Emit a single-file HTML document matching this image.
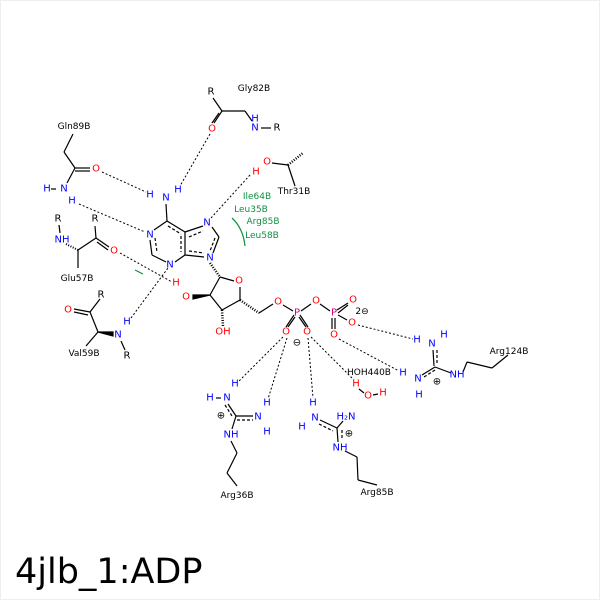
<!DOCTYPE html>
<html><head><meta charset="utf-8"><style>
html,body{margin:0;padding:0;background:#fff}
svg{display:block}
text{font-family:"DejaVu Sans","Liberation Sans",sans-serif;font-size:10px;text-anchor:middle;dominant-baseline:central}
.b{fill:#0000ff}.r{fill:#ff0000}.p{fill:#cc0080}.k{fill:#000}.g{fill:#109040}
.l{font-size:9px}
</style></head><body>
<svg width="600" height="600" viewBox="0 0 600 600">
<rect x="0.5" y="0.5" width="599" height="599" fill="#fff" stroke="#eee"/>
<g stroke="#000" stroke-width="1.2" fill="none">
<line x1="213" y1="98" x2="222" y2="111"/><line x1="222" y1="111" x2="245" y2="111"/><line x1="245" y1="111" x2="252" y2="121"/>
<line x1="261" y1="128" x2="271" y2="128"/>
<line x1="222" y1="111" x2="214" y2="123"/><line x1="219" y1="113" x2="212" y2="123"/>
<line x1="73" y1="134" x2="64" y2="152"/><line x1="64" y1="152" x2="75" y2="168"/>
<line x1="75" y1="168" x2="90" y2="168"/><line x1="75" y1="171" x2="90" y2="171"/>
<line x1="75" y1="168" x2="67" y2="183"/><line x1="51" y1="189" x2="56" y2="189"/>
<line x1="166" y1="204" x2="167" y2="221"/>
<line x1="167" y1="221" x2="154" y2="230"/><line x1="167" y1="221" x2="185" y2="232"/>
<line x1="150" y1="240" x2="152" y2="255"/><line x1="152" y1="255" x2="166" y2="262"/>
<line x1="175" y1="262" x2="185" y2="255"/><line x1="185" y1="255" x2="185" y2="232"/>
<line x1="185" y1="232" x2="203" y2="226"/><line x1="212" y1="227" x2="219" y2="237"/>
<line x1="219" y1="237" x2="213" y2="253"/><line x1="185" y1="255" x2="204" y2="257"/>
<g stroke-dasharray="3,2"><line x1="155" y1="238" x2="157" y2="252"/><line x1="168" y1="226" x2="181" y2="234"/><line x1="181" y1="236" x2="181" y2="252"/><line x1="189" y1="237" x2="203" y2="231"/><line x1="215" y1="238" x2="210" y2="251"/><line x1="189" y1="251" x2="204" y2="253"/></g>
<line x1="210" y1="263" x2="220" y2="277" stroke-dasharray="1,1.5" stroke-width="2.5"/>
<line x1="220" y1="277" x2="234" y2="281"/><line x1="220" y1="277" x2="210" y2="295"/>
<line x1="210" y1="295" x2="222" y2="310"/><line x1="222" y1="310" x2="240" y2="300"/>
<line x1="240" y1="300" x2="240" y2="287"/>
<line x1="240" y1="300" x2="259" y2="313" stroke-dasharray="1,1.5" stroke-width="2.5"/>
<line x1="259" y1="313" x2="273" y2="304"/>
<line x1="222" y1="310" x2="223" y2="326" stroke-dasharray="1,1.5" stroke-width="2.5"/>
<polygon points="210,295 193,295 193,299" fill="#000"/>
<line x1="283" y1="305" x2="293" y2="311"/><line x1="301" y1="311" x2="311" y2="304"/>
<line x1="320" y1="304" x2="330" y2="311"/>
<line x1="295" y1="317" x2="288" y2="327"/><line x1="299" y1="317" x2="306" y2="327"/>
<line x1="294" y1="315" x2="286" y2="327"/><line x1="300" y1="315" x2="308" y2="327"/>
<line x1="337" y1="310" x2="348" y2="303"/><line x1="338" y1="313" x2="348" y2="305"/>
<line x1="338" y1="315" x2="347" y2="320"/>
<line x1="332" y1="318" x2="332" y2="329"/><line x1="335" y1="318" x2="335" y2="329"/>
<line x1="272" y1="163" x2="288" y2="165"/><line x1="288" y1="165" x2="295" y2="186"/>
<line x1="288" y1="165" x2="303" y2="153" stroke-dasharray="1,1.5" stroke-width="2.5"/>
<line x1="59" y1="225" x2="60" y2="233"/>
<line x1="66" y1="244" x2="78" y2="250" stroke-dasharray="1,1.5" stroke-width="2"/>
<line x1="78" y1="250" x2="96" y2="238"/><line x1="96" y1="238" x2="95" y2="226"/>
<line x1="96" y1="238" x2="109" y2="247"/><line x1="97" y1="242" x2="108" y2="250"/>
<line x1="78" y1="250" x2="78" y2="268"/>
<line x1="74" y1="309" x2="90" y2="312"/><line x1="74" y1="312" x2="88" y2="315"/>
<line x1="90" y1="312" x2="100" y2="299"/><line x1="90" y1="312" x2="98" y2="332"/>
<line x1="98" y1="332" x2="86" y2="346"/>
<polygon points="98,332 113,332 113,336" fill="#000"/>
<line x1="121" y1="341" x2="125" y2="350"/>
<line x1="433" y1="350" x2="434" y2="366"/><line x1="437" y1="350" x2="437" y2="364" stroke-dasharray="3,2"/>
<line x1="435" y1="367" x2="422" y2="375"/><line x1="435" y1="370" x2="424" y2="377" stroke-dasharray="3,2"/>
<line x1="435" y1="367" x2="451" y2="373"/><line x1="463" y1="372" x2="467" y2="362"/>
<line x1="467" y1="362" x2="492" y2="368"/><line x1="492" y1="368" x2="508" y2="355"/>
<line x1="228" y1="404" x2="236" y2="416"/><line x1="225" y1="405" x2="232" y2="416" stroke-dasharray="3,2"/>
<line x1="236" y1="416" x2="253" y2="416"/><line x1="237" y1="420" x2="253" y2="420" stroke-dasharray="3,2"/>
<line x1="236" y1="416" x2="232" y2="429"/>
<line x1="231" y1="441" x2="237" y2="453"/><line x1="237" y1="453" x2="227" y2="473"/><line x1="227" y1="473" x2="237" y2="486"/>
<line x1="216" y1="398" x2="221" y2="398"/>
<line x1="320" y1="420" x2="337" y2="428"/><line x1="319" y1="424" x2="333" y2="431" stroke-dasharray="3,2"/>
<line x1="337" y1="428" x2="343" y2="421"/><line x1="337" y1="428" x2="338" y2="442"/>
<line x1="342" y1="430" x2="342" y2="440" stroke-dasharray="3,2"/>
<line x1="345" y1="451" x2="357" y2="457"/><line x1="357" y1="457" x2="358" y2="480"/><line x1="358" y1="480" x2="377" y2="485"/>
<line x1="359" y1="389" x2="364" y2="393"/><line x1="373" y1="395" x2="378" y2="394"/>
</g>
<g stroke="#000" stroke-width="1" stroke-dasharray="2,2" fill="none">
<line x1="102" y1="172" x2="146" y2="192"/>
<line x1="210" y1="134" x2="180" y2="186"/>
<line x1="79" y1="204" x2="145" y2="232"/>
<line x1="250" y1="175" x2="211" y2="218"/>
<line x1="120" y1="253" x2="172" y2="282"/>
<line x1="131" y1="318" x2="168" y2="268"/>
<line x1="283" y1="337" x2="239" y2="381"/>
<line x1="287" y1="338" x2="268" y2="399"/>
<line x1="308" y1="338" x2="313" y2="398"/>
<line x1="311" y1="337" x2="354" y2="380"/>
<line x1="339" y1="339" x2="399" y2="371"/>
<line x1="358" y1="325" x2="413" y2="339"/>
</g>
<path d="M232,218 Q243,228 245,246" stroke="#109040" stroke-width="1.2" fill="none"/>
<line x1="135" y1="270" x2="143" y2="274" stroke="#109040" stroke-width="1.2"/>
<text x="211" y="92" class="k">R</text><text x="254" y="89" class="k l">Gly82B</text>
<text x="212" y="129" class="r">O</text><text x="255" y="119" class="b">H</text><text x="255" y="128" class="b">N</text><text x="277" y="128" class="k">R</text>
<text x="74" y="127" class="k l">Gln89B</text>
<text x="96" y="169" class="r">O</text><text x="47" y="189" class="b">H</text><text x="64" y="189" class="b">N</text><text x="72" y="201" class="b">H</text>
<text x="150" y="195" class="b">H</text><text x="166" y="198" class="b">N</text><text x="178" y="190" class="b">H</text>
<text x="150" y="235" class="b">N</text><text x="170" y="265" class="b">N</text><text x="207" y="223" class="b">N</text><text x="210" y="258" class="b">N</text>
<text x="267" y="162" class="r">O</text><text x="256" y="172" class="r">H</text><text x="294" y="192" class="k l">Thr31B</text>
<text x="257" y="197" class="g l">Ile64B</text><text x="251" y="210" class="g l">Leu35B</text><text x="263" y="222" class="g l">Arg85B</text><text x="262" y="236" class="g l">Leu58B</text>
<text x="58" y="219" class="k">R</text><text x="62" y="240" class="b">NH</text><text x="95" y="219" class="k">R</text><text x="114" y="251" class="r">O</text><text x="77" y="279" class="k l">Glu57B</text>
<text x="176" y="283" class="r">H</text><text x="186" y="297" class="r">O</text>
<text x="239" y="281" class="r">O</text><text x="223" y="332" class="r">OH</text>
<text x="68" y="310" class="r">O</text><text x="101" y="295" class="k">R</text><text x="118" y="335" class="b">N</text><text x="127" y="322" class="b">H</text><text x="127" y="356" class="k">R</text><text x="84" y="354" class="k l">Val59B</text>
<text x="278" y="302" class="r">O</text><text x="297" y="313" class="p">P</text><text x="316" y="301" class="r">O</text><text x="334" y="313" class="p">P</text>
<text x="353" y="300" class="r">O</text><text x="352" y="323" class="r">O</text><text x="334" y="335" class="r">O</text><text x="362" y="312" class="k" style="font-size:9px">2⊖</text>
<text x="286" y="332" class="r">O</text><text x="307" y="332" class="r">O</text><text x="297" y="343" class="k">⊖</text>
<text x="417" y="340" class="b">H</text><text x="432" y="344" class="b">N</text><text x="444" y="335" class="b">H</text>
<text x="457" y="375" class="b">NH</text><text x="403" y="373" class="b">H</text><text x="418" y="379" class="b">N</text><text x="419" y="395" class="b">H</text><text x="437" y="382" class="k">⊕</text>
<text x="509" y="352" class="k l">Arg124B</text>
<text x="369" y="373" class="k l">HOH440B</text><text x="356" y="384" class="r">H</text><text x="368" y="396" class="r">O</text><text x="383" y="393" class="r">H</text>
<text x="235" y="384" class="b">H</text><text x="227" y="398" class="b">N</text><text x="210" y="398" class="b">H</text><text x="221" y="416" class="k">⊕</text>
<text x="258" y="417" class="b">N</text><text x="267" y="403" class="b">H</text><text x="267" y="432" class="b">H</text><text x="231" y="435" class="b">NH</text>
<text x="237" y="496" class="k l">Arg36B</text>
<text x="313" y="403" class="b">H</text><text x="315" y="418" class="b">N</text><text x="302" y="427" class="b">H</text><text x="346" y="417" class="b">H₂N</text>
<text x="349" y="434" class="k">⊕</text><text x="340" y="448" class="b">NH</text><text x="377" y="493" class="k l">Arg85B</text>
<text x="15" y="572" style="font-size:35px;text-anchor:start" class="k">4jlb_1:ADP</text>
</svg>
</body></html>
